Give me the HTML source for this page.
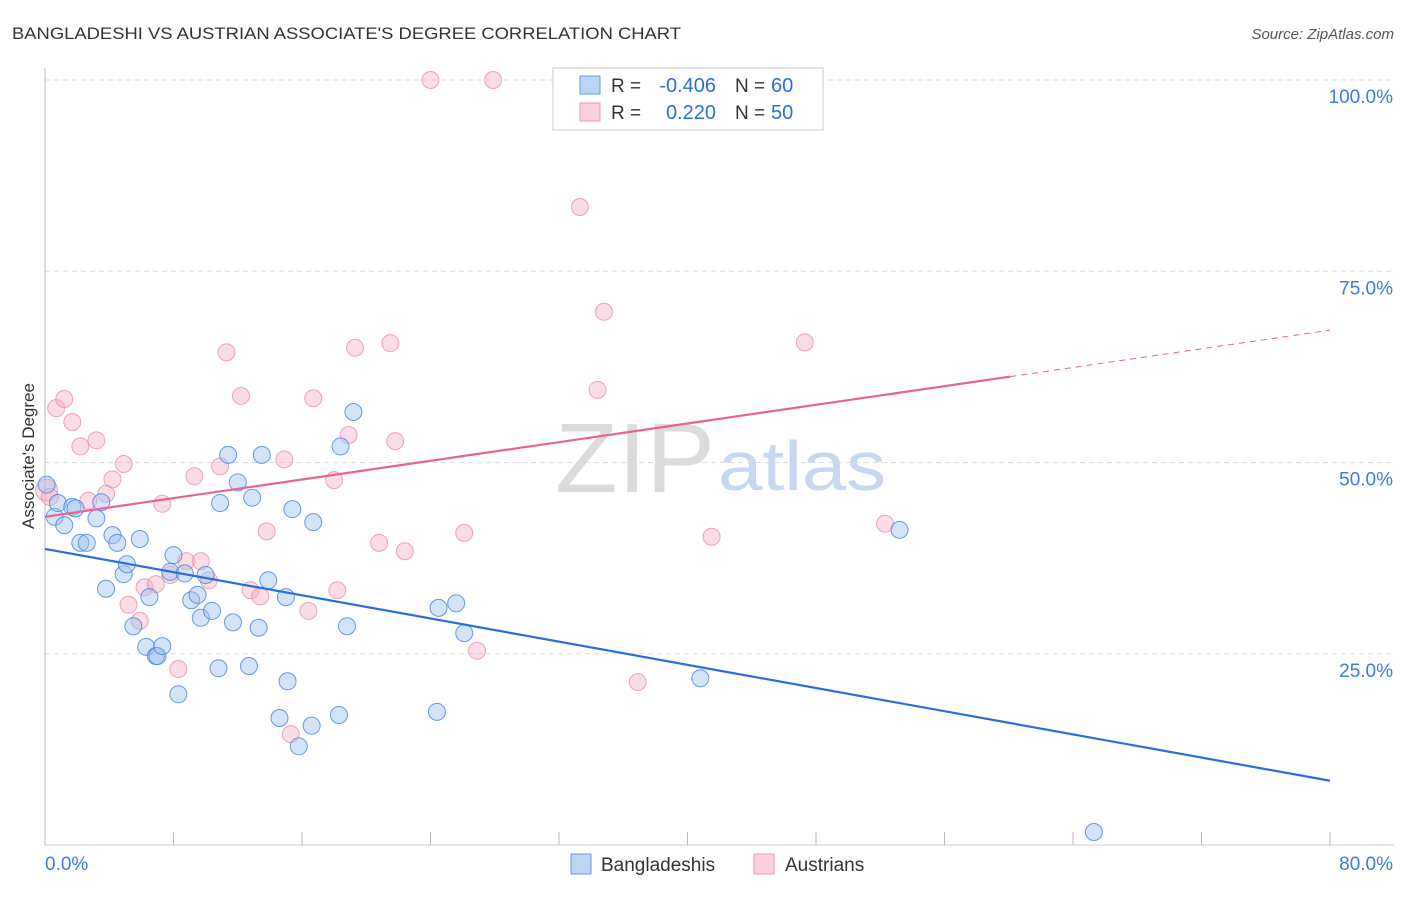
<!DOCTYPE html>
<html><head><meta charset="utf-8"><style>
body{margin:0;background:#fff;font-family:"Liberation Sans",sans-serif}
svg text{font-family:"Liberation Sans",sans-serif}
</style></head><body>
<svg id="c" width="1406" height="892">
<text x="12" y="39" font-size="17" fill="#333" textLength="669" lengthAdjust="spacingAndGlyphs">BANGLADESHI VS AUSTRIAN ASSOCIATE'S DEGREE CORRELATION CHART</text>
<text x="1394" y="39" font-size="15" fill="#555" font-style="italic" text-anchor="end">Source: ZipAtlas.com</text>
<text x="0" y="0" transform="translate(34,456) rotate(-90)" font-size="17" fill="#333" text-anchor="middle">Associate's Degree</text>
<text x="555" y="492" font-size="98" fill="#dcdcdc" textLength="160" lengthAdjust="spacingAndGlyphs" font-family="Liberation Serif">ZIP</text>
<text x="718" y="490" font-size="70" fill="#c8d8ef" textLength="168" lengthAdjust="spacingAndGlyphs">atlas</text>
<g id="grid"></g><g id="pts"></g><g id="lines"></g>
<rect x="553" y="68" width="270" height="62" fill="#fff" stroke="#ccc"/>
<rect x="580" y="76" width="20" height="18" fill="#bcd4f3" stroke="#6a9ae0"/>
<rect x="580" y="103" width="20" height="18" fill="#fbd0dc" stroke="#ec9ab2"/>
<text x="611" y="92" font-size="19" fill="#333">R =</text>
<text x="716" y="92" font-size="20" fill="#2a6fd8" text-anchor="end">-0.406</text>
<text x="735" y="92" font-size="19" fill="#333">N =</text>
<text x="771" y="92" font-size="20" fill="#2a6fd8">60</text>
<text x="611" y="119" font-size="19" fill="#333">R =</text>
<text x="716" y="119" font-size="20" fill="#2a6fd8" text-anchor="end">0.220</text>
<text x="735" y="119" font-size="19" fill="#333">N =</text>
<text x="771" y="119" font-size="20" fill="#2a6fd8">50</text>
<rect x="571" y="854" width="20" height="20" fill="#bcd4f3" stroke="#6a9ae0"/>
<text x="601" y="871" font-size="19" fill="#333">Bangladeshis</text>
<rect x="754" y="854" width="20" height="20" fill="#fbd0dc" stroke="#ec9ab2"/>
<text x="785" y="871" font-size="19" fill="#333">Austrians</text>
</svg>
<script>
const yTicks=[25,50,75,100];
const xTickLabels=["0.0%","80.0%"];
const blueX=[0.1,0.6,0.8,1.2,1.7,1.9,2.2,2.6,3.2,3.5,3.8,4.2,4.5,4.9,5.1,5.5,5.9,6.3,6.5,6.9,7.0,7.3,7.8,8.0,8.3,8.7,9.1,9.5,9.7,10.0,10.4,10.8,10.9,11.4,11.7,12.0,12.7,12.9,13.3,13.5,13.9,14.6,15.0,15.1,15.4,15.8,16.6,16.7,18.3,18.4,18.8,19.2,24.4,24.5,25.6,26.1,40.8,53.2,65.3];
const blueY=[47.1,42.9,44.7,41.8,44.2,44.0,39.5,39.5,42.7,44.8,33.5,40.5,39.5,35.4,36.7,28.6,40.0,25.9,32.4,24.7,24.7,26.0,35.7,37.9,19.7,35.5,32.0,32.7,29.7,35.3,30.6,23.1,44.7,51.0,29.1,47.4,23.4,45.4,28.4,51.0,34.6,16.6,32.4,21.4,43.9,12.9,15.6,42.2,17.0,52.1,28.6,56.6,17.4,31.0,31.6,27.7,21.8,41.2,1.7];
const pinkX=[0.1,0.3,0.7,1.2,1.7,2.2,3.2,4.2,3.8,2.7,4.9,5.2,5.9,6.2,6.9,7.3,7.8,8.3,8.8,9.3,9.7,10.2,10.9,11.3,12.2,12.8,13.4,13.8,14.9,15.3,16.4,16.7,18.0,18.2,18.9,19.3,20.8,21.5,21.8,22.4,24.0,26.1,26.9,27.9,33.3,34.4,34.8,36.9,41.5,47.3,52.3];
const pinkY=[46.4,45.5,57.1,58.3,55.3,52.1,52.9,47.8,45.9,45.0,49.8,31.4,29.3,33.7,34.1,44.6,35.3,23.0,37.1,48.2,37.1,34.6,49.5,64.4,58.7,33.3,32.5,41.0,50.4,14.5,30.6,58.4,47.7,33.3,53.6,65.0,39.5,65.6,52.8,38.4,100,40.8,25.4,100,83.4,59.5,69.7,21.3,40.3,65.7,42.0];
const blueTrend=[38.7,8.4];
const pinkTrend=[42.9,67.3];
const pinkSolidEnd=60.1;
const NS="http://www.w3.org/2000/svg";
const X=v=>45+v/80*1285, Y=v=>845-v/100*765;
function mk(t,a,p){const e=document.createElementNS(NS,t);for(const k in a)e.setAttribute(k,a[k]);document.getElementById(p).appendChild(e);return e;}
yTicks.forEach(t=>{
 const l=mk('line',{x1:45,x2:1394,y1:Y(t),y2:Y(t),stroke:'#ddd','stroke-dasharray':'5,4'},'grid');
 
 
 const tx=mk('text',{x:1393,y:Y(t)+23,'font-size':19,fill:'#3d7be0','text-anchor':'end'},'grid');tx.textContent=t.toFixed(1)+'%';
 
 
});
const ax=mk('line',{x1:45,x2:45,y1:68,y2:845,stroke:'#bbb'},'grid');


const bx=mk('line',{x1:45,x2:1394,y1:845,y2:845,stroke:'#ccc'},'grid');


for(let i=0;i<=10;i++){const t=mk('line',{x1:X(i*8),x2:X(i*8),y1:832,y2:845,stroke:'#bbb'},'grid');
 
 }
[[0,'start',45],[1,'end',1393]].forEach(([i,a,x])=>{const t=mk('text',{x:x,y:870,'font-size':19,fill:'#3d7be0','text-anchor':a},'grid');t.textContent=xTickLabels[i];
 
 });
pinkX.forEach((v,i)=>{const c=mk('circle',{cx:X(v),cy:Y(pinkY[i]),r:i==0?11:8.5,fill:'rgba(246,170,195,0.4)',stroke:'rgba(232,130,160,0.7)'},'pts');
 
 });
blueX.forEach((v,i)=>{const c=mk('circle',{cx:X(v),cy:Y(blueY[i]),r:8.5,fill:'rgba(160,195,240,0.45)',stroke:'rgba(70,130,220,0.8)'},'pts');
 
 });
const b=mk('line',{x1:X(0),y1:Y(blueTrend[0]),x2:X(80),y2:Y(blueTrend[1]),stroke:'#2a6fd8','stroke-width':2.2},'lines');


const py=v=>pinkTrend[0]+(pinkTrend[1]-pinkTrend[0])*v/80;
const p1=mk('line',{x1:X(0),y1:Y(pinkTrend[0]),x2:X(pinkSolidEnd),y2:Y(py(pinkSolidEnd)),stroke:'#e8648e','stroke-width':2.2},'lines');


const p2=mk('line',{x1:X(pinkSolidEnd),y1:Y(py(pinkSolidEnd)),x2:X(80),y2:Y(pinkTrend[1]),stroke:'#e8648e','stroke-width':1,'stroke-dasharray':'6,5'},'lines');


</script>
</body></html>
